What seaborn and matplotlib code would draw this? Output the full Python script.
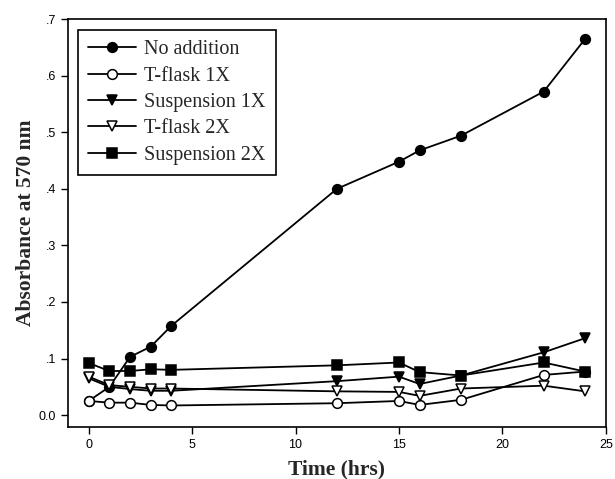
import numpy as np
import pandas as pd
import matplotlib
matplotlib.use("Agg")
import matplotlib.pyplot as plt
from matplotlib.ticker import FuncFormatter
import seaborn as sns

# time points (hrs)
time_hrs = [0, 1, 2, 3, 4, 12, 15, 16, 18, 22, 24]

# absorbance at 570 nm
no_addition   = [0.025, 0.050, 0.103, 0.121, 0.158, 0.400, 0.448, 0.468, 0.494, 0.572, 0.665]
tflask_1x     = [0.025, 0.022, 0.022, 0.018, 0.017, 0.021, 0.025, 0.018, 0.027, 0.071, 0.077]
suspension_1x = [0.065, 0.050, 0.046, 0.043, 0.043, 0.060, 0.068, 0.055, 0.070, 0.111, 0.136]
tflask_2x     = [0.068, 0.053, 0.050, 0.047, 0.047, 0.042, 0.041, 0.034, 0.047, 0.052, 0.042]
suspension_2x = [0.092, 0.078, 0.078, 0.081, 0.080, 0.088, 0.093, 0.076, 0.070, 0.093, 0.077]

series = ["No addition", "T-flask 1X", "Suspension 1X", "T-flask 2X", "Suspension 2X"]
values = [no_addition, tflask_1x, suspension_1x, tflask_2x, suspension_2x]

df = pd.DataFrame({
    "time": time_hrs * len(series),
    "abs": np.concatenate(values),
    "series": np.repeat(series, len(time_hrs)),
})

sns.set_style("ticks")
plt.rcParams["font.family"] = ["Liberation Sans", "DejaVu Sans"]

fig = plt.figure(figsize=(6.15, 4.79), dpi=100)
ax = fig.add_axes([0.1106, 0.1086, 0.8744, 0.8514])

styles = {
    "No addition":   dict(marker="o", mfc="black"),
    "T-flask 1X":    dict(marker="o", mfc="white"),
    "Suspension 1X": dict(marker="v", mfc="black"),
    "T-flask 2X":    dict(marker="v", mfc="white"),
    "Suspension 2X": dict(marker="s", mfc="black"),
}

for name in series:
    sub = df[df["series"] == name]
    st = styles[name]
    sns.lineplot(data=sub, x="time", y="abs", ax=ax, color="black", lw=1.3,
                 marker=st["marker"], markerfacecolor=st["mfc"], markeredgecolor="black",
                 markeredgewidth=1.1, markersize=7, label=name)

ax.set_xlim(-1, 25)
ax.set_ylim(-0.021, 0.7)
ax.set_xticks([0, 5, 10, 15, 20, 25])
ax.set_yticks([0.0, 0.1, 0.2, 0.3, 0.4, 0.5, 0.6, 0.7])

def yfmt(v, pos):
    if abs(v) < 1e-9:
        return "0.0"
    return ("%.1f" % v).lstrip("0")

ax.yaxis.set_major_formatter(FuncFormatter(yfmt))
ax.tick_params(axis="both", direction="out", length=5, width=1, labelsize=9, colors="black")
for sp in ax.spines.values():
    sp.set_linewidth(1.2)
    sp.set_color("black")
    sp.set_visible(True)

ax.set_xlabel("Time (hrs)", family=["Liberation Serif"], fontweight="bold", fontsize=15.5, labelpad=6)
ax.set_ylabel("Absorbance at 570 nm", family=["Liberation Serif"], fontweight="bold", fontsize=15.5, labelpad=2)

leg = ax.legend(loc="upper left", bbox_to_anchor=(0.0186, 0.973), borderaxespad=0,
                frameon=True, fancybox=False,
                edgecolor="black", framealpha=1, handlelength=2.4, handletextpad=0.4,
                labelspacing=0.36, borderpad=0.5,
                prop={"family": "Liberation Serif", "size": 14.5})
leg.get_frame().set_linewidth(1.2)

fig.savefig("out.png", dpi=100)
